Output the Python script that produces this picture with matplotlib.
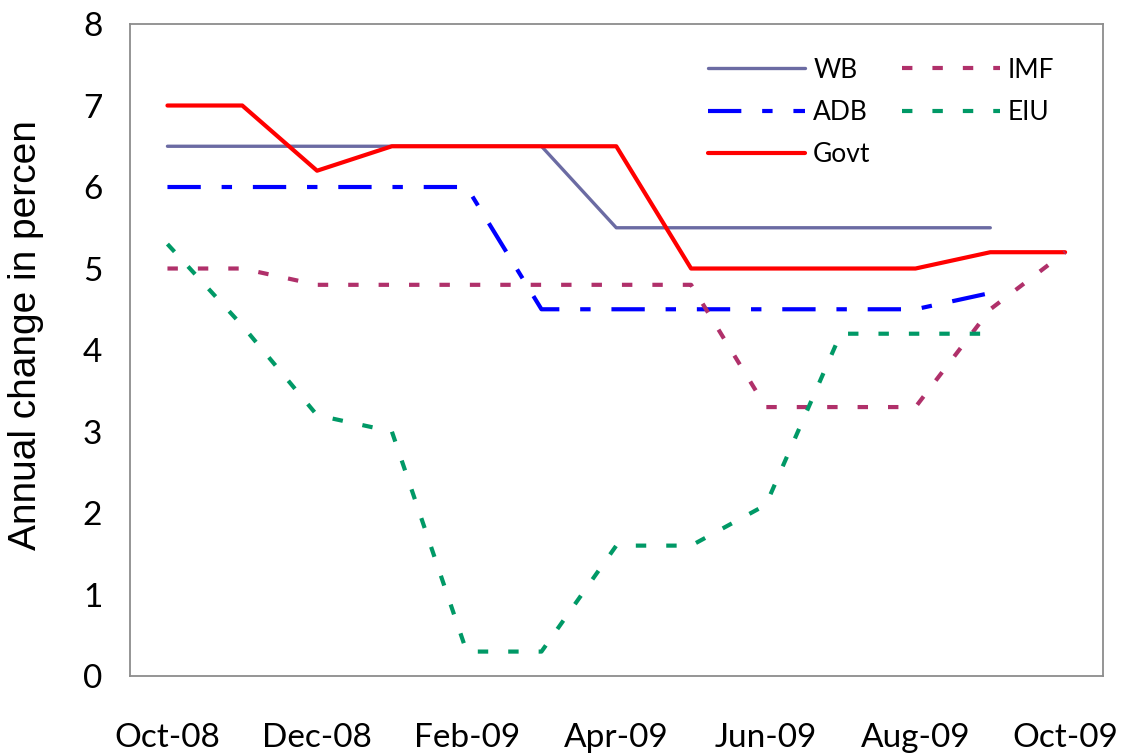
import matplotlib.pyplot as plt
import numpy as np

months = ['Oct-08', 'Nov-08', 'Dec-08', 'Jan-09', 'Feb-09', 'Mar-09', 'Apr-09',
          'May-09', 'Jun-09', 'Jul-09', 'Aug-09', 'Sep-09', 'Oct-09']
nan = np.nan
wb = [6.5, 6.5, 6.5, 6.5, 6.5, 6.5, 5.5, 5.5, 5.5, 5.5, 5.5, 5.5, nan]
adb = [6.0, 6.0, 6.0, 6.0, 6.0, 4.5, 4.5, 4.5, 4.5, 4.5, 4.5, 4.7, nan]
govt = [7.0, 7.0, 6.2, 6.5, 6.5, 6.5, 6.5, 5.0, 5.0, 5.0, 5.0, 5.2, 5.2]
imf = [5.0, 5.0, 4.8, 4.8, 4.8, 4.8, 4.8, 4.8, 3.3, 3.3, 3.3, 4.5, 5.2]
eiu = [5.3, 4.3, 3.2, 3.0, 0.3, 0.3, 1.6, 1.6, 2.1, 4.2, 4.2, 4.2, nan]

plt.rcParams['font.family'] = ['Lato', 'DejaVu Sans']

fig = plt.figure(figsize=(11.25, 7.55), dpi=100)
ax = fig.add_axes([0.1156, 0.1046, 0.8644, 0.8636])

x = np.arange(len(months))
ax.plot(x, wb, color='#6B6BA3', lw=2.4, solid_capstyle='round', label='WB')
ax.plot(x, adb, color='#0000FF', lw=3.0, dashes=(8, 5, 2.5, 5), label='ADB')
ax.plot(x, govt, color='#FF0000', lw=3.0, solid_capstyle='round', label='Govt')
ax.plot(x, imf, color='#B0306A', lw=3.0, dashes=(2.5, 4.8), label='IMF')
ax.plot(x, eiu, color='#009966', lw=3.0, dashes=(2.5, 4.8), label='EIU')

ax.set_xlim(-0.5, 12.5)
ax.set_ylim(0, 8)
ax.set_yticks(range(0, 9))
ax.set_xticks(x[::2])
ax.set_xticklabels(months[::2])
ax.tick_params(axis='both', length=0, labelsize=24)
ax.tick_params(axis='y', pad=20)
ax.tick_params(axis='x', pad=34)
for s in ax.spines.values():
    s.set_color('#8C8C8C')
    s.set_linewidth(1.3)

ax.set_ylabel('Annual change in percen', fontsize=28, family='Liberation Sans')
ax.yaxis.set_label_coords(-0.089, 0.523)

ax.legend(loc='upper right', ncol=2, frameon=False, fontsize=19,
          handlelength=3.7, handletextpad=0.3, columnspacing=1.2,
          labelspacing=0.66, bbox_to_anchor=(0.975, 0.985))

fig.savefig('out.png', dpi=100)
